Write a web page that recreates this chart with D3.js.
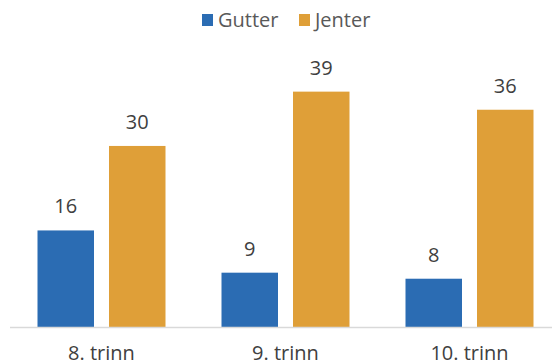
<!DOCTYPE html>
<html><head><meta charset="utf-8">
<script src="https://cdn.jsdelivr.net/npm/d3@7"></script>
<style>body{margin:0;background:#fff}svg{display:block}text{font-family:"Open Sans",sans-serif}</style>
</head><body><svg id="c" width="552" height="362"></svg>
<script>
const categories = ["8. trinn", "9. trinn", "10. trinn"];
const seriesNames = ["Gutter", "Jenter"];
const gutter = [16, 9, 8];
const jenter = [30, 39, 36];
const colors = ["#2b6cb3", "#df9f38"];

const svg = d3.select("#c");
const data = categories.map((c, i) => ({cat: c, vals: [gutter[i], jenter[i]]}));

const x0 = d3.scaleBand().domain(categories).range([9.5, 561.5]).paddingInner(56/184).paddingOuter(28/184);
const x1 = d3.scaleBand().domain(seriesNames).range([0, x0.bandwidth()]).paddingInner(15/71.5).paddingOuter(0);
const y = d3.scaleLinear().domain([0, 40]).range([327, 85.6]);

const g = svg.selectAll("g.grp").data(data).join("g").attr("transform", d => `translate(${x0(d.cat)},0)`);
g.selectAll("rect").data(d => d.vals.map((v, i) => ({s: seriesNames[i], v, i})))
  .join("rect")
  .attr("x", d => x1(d.s)).attr("width", x1.bandwidth())
  .attr("y", d => y(d.v)).attr("height", d => y(0) - y(d.v))
  .attr("fill", d => colors[d.i]);
g.selectAll("text.val").data(d => d.vals.map((v, i) => ({s: seriesNames[i], v, i})))
  .join("text").attr("class", "val")
  .attr("x", d => x1(d.s) + x1.bandwidth()/2).attr("y", d => y(d.v) - 17)
  .attr("text-anchor", "middle").attr("font-size", 20).attr("fill", "#404040")
  .text(d => d.v);

svg.append("line").attr("x1", 10).attr("x2", 552).attr("y1", 327.5).attr("y2", 327.5)
  .attr("stroke", "#d9d9d9").attr("stroke-width", 1.5);

const xAxis = d3.axisBottom(x0).tickSize(0).tickPadding(0);
const ax = svg.append("g").attr("transform", "translate(0,345.5)").call(xAxis);
ax.select(".domain").remove();
ax.selectAll("text").attr("font-size", 20).attr("fill", "#404040").attr("dy", "0.71em")
  .attr("font-family", "Open Sans, sans-serif");

const legX = [202, 299];
const leg = svg.selectAll("g.leg").data(seriesNames).join("g").attr("transform", (d, i) => `translate(${legX[i]},14)`);
leg.append("rect").attr("width", 11).attr("height", 12).attr("fill", (d, i) => colors[i]);
leg.append("text").attr("x", 16).attr("y", 12.5).attr("font-size", 20).attr("fill", "#595959").text(d => d);
</script></body></html>
